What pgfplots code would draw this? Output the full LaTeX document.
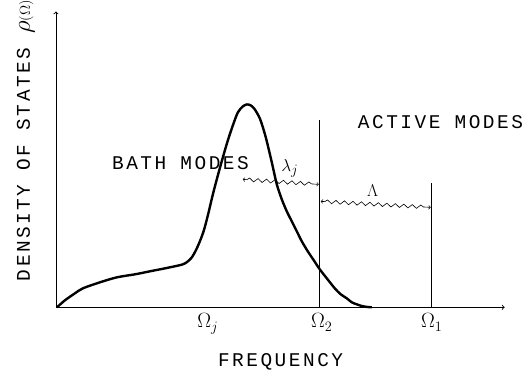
\documentclass[border=0pt]{standalone}
\usepackage{fontspec}
\usepackage{pgfplots}
\pgfplotsset{compat=1.18}
\usetikzlibrary{decorations.pathmorphing}
\newfontfamily\plotfont[LetterSpace=13]{Liberation Mono}
\newcommand{\pf}{\plotfont\fontsize{19.5}{22}\selectfont}
\begin{document}
\begin{tikzpicture}
\begin{axis}[
  scale only axis,
  width=449bp, height=296bp,
  xmin=56, xmax=505, ymin=0, ymax=296,
  axis lines=left,
  axis line style={->, line width=0.9bp},
  xtick={208,322,432},
  xticklabels={$\Omega_j$,$\Omega_2$,$\Omega_1$},
  ytick=\empty,
  major tick length=0pt,
  xticklabel style={font=\fontsize{22}{25}\selectfont, anchor=north, yshift=-3bp},
  clip=false,
  xlabel={FREQUENCY},
  every axis x label/.style={at={(axis description cs:0.3608,-0.1993)}, anchor=base west, inner sep=0pt, font=\pf},
  ylabel={DENSITY OF STATES {\fontsize{25}{28}\selectfont$\rho$\fontsize{15}{17}\selectfont$(\Omega)$}},
  every axis y label/.style={at={(axis description cs:-0.0579,0.0878)}, rotate=90, anchor=base west, inner sep=0pt, font=\pf},
]
% bounding box of the whole figure (523 x 370)
\path (axis cs:0,-64) rectangle (axis cs:523,306);
% density of states curve
\addplot[line width=2.4bp, smooth, tension=0.5] coordinates {
(57,0) (65,7) (75,14) (83,19) (100,25) (117,30) (135,33) (150,36) (170,40)
(183,43) (188,46) (192,50) (196,57) (200,66) (204,77) (208,92) (213,113)
(218,132) (223,150) (228,167) (233,182) (238,195) (243,201) (247,203)
(251,202) (255,198) (260,189) (264,177) (267,166) (272,145) (277,123)
(282,108) (287,96) (292,86) (297,76) (302,66) (308,56) (314,47) (320,38)
(327,29) (335,19) (341,13) (347,9) (352,5) (357,3) (362,1.3) (367,0.4) (372,0)
};
% vertical lines at Omega_2 and Omega_1
\addplot[line width=0.9bp] coordinates {(320,0) (320,187)};
\addplot[line width=0.9bp] coordinates {(432,0) (432,124)};
% wavy arrows
\addplot[line width=0.6bp, <->, decorate, decoration={snake, amplitude=1.8bp, segment length=8.5bp, pre length=4bp, post length=4bp}] coordinates {(243,128) (319,123)};
\addplot[line width=0.6bp, <->, decorate, decoration={snake, amplitude=1.8bp, segment length=8.5bp, pre length=4bp, post length=4bp}] coordinates {(321,106) (431,100)};
% labels
\node[anchor=base west, inner sep=0pt, font=\pf] at (axis cs:112,138) {BATH MODES};
\node[anchor=base west, inner sep=0pt, font=\pf] at (axis cs:358,179) {ACTIVE MODES};
\node[font=\fontsize{19}{22}\selectfont] at (axis cs:290,139) {$\lambda_j$};
\node[font=\fontsize{16}{18}\selectfont] at (axis cs:373,117) {$\Lambda$};
\end{axis}
\end{tikzpicture}
\end{document}
